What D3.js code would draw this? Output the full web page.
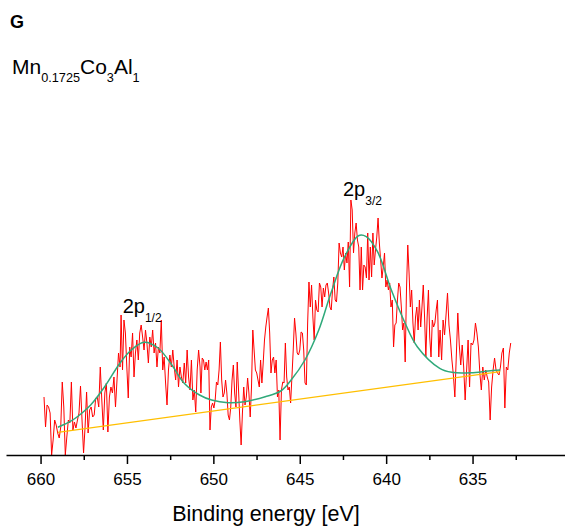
<!DOCTYPE html>
<html>
<head>
<meta charset="utf-8">
<script src="https://cdn.jsdelivr.net/npm/d3@7"></script>
<style>
    body { margin: 0; background: #fff; }
    text { font-family: "Liberation Sans", Arial, sans-serif; fill: #000; }
</style>
</head>
<body>
<svg id="chart"></svg>
<script>
// izmjereni spektar, očitan po dijelovima (energija vezanja u eV, intenzitet u proizvoljnim jedinicama)
const segStart = [659.80, 655.34, 650.72, 646.06, 641.44, 636.79];
const segEnd = [655.40, 650.77, 646.14, 641.51, 636.88, 632.79];

const seg1 = [58, 28, 50, 48, 42, 0, 15, 35, 30, 22, 17, 28, 73, 48, 0, 18, 35, 32, 73, 25, 33, 27, 35, 42, 69, 35, 2, 28, 63, 22, 45, 48, 38, 40, 57, 58, 48, 88, 55, 25, 62, 72, 23, 58, 68, 62, 78, 48, 75, 102, 88];
const seg2 = [140, 85, 135, 122, 88, 57, 108, 98, 122, 78, 102, 115, 95, 122, 130, 118, 105, 125, 112, 92, 118, 108, 125, 102, 112, 88, 108, 102, 135, 85, 98, 72, 50, 85, 100, 88, 105, 88, 75, 95, 68, 88, 78, 72, 92, 72, 105, 78, 65, 95, 55, 65, 43, 85, 105, 88];
const seg3 = [62, 97, 95, 85, 93, 85, 95, 25, 48, 52, 47, 55, 73, 70, 85, 113, 75, 58, 62, 75, 62, 40, 35, 48, 75, 90, 62, 48, 93, 65, 35, 10, 42, 68, 50, 58, 77, 62, 38, 68, 125, 105, 85, 82, 75, 68, 95, 72, 92, 115, 128, 138, 147, 122, 82, 95, 98, 82, 95, 58, 65, 15];
const seg4 = [65, 73, 72, 112, 78, 65, 68, 52, 78, 105, 137, 122, 102, 100, 105, 123, 122, 105, 72, 70, 132, 173, 148, 170, 138, 115, 155, 145, 143, 172, 168, 148, 167, 158, 170, 172, 162, 148, 145, 165, 178, 155, 153, 172, 212, 202, 198, 208, 185, 202, 192, 213, 168, 255, 245, 202, 222, 232, 215, 208, 165];
const seg5 = [208, 165, 190, 188, 177, 222, 175, 208, 178, 222, 190, 205, 218, 237, 212, 195, 177, 188, 202, 168, 175, 165, 172, 148, 155, 108, 130, 132, 155, 172, 168, 148, 125, 132, 93, 165, 210, 182, 148, 165, 132, 112, 138, 148, 125, 155, 128, 148, 170, 138, 98, 138, 165, 118, 98, 135, 128, 132, 145, 155, 98, 125];
const seg6 = [95, 135, 120, 140, 162, 130, 115, 95, 80, 58, 100, 142, 110, 90, 110, 88, 55, 85, 115, 68, 112, 110, 115, 132, 122, 108, 82, 65, 88, 75, 85, 78, 73, 35, 68, 85, 97, 85, 82, 80, 88, 102, 107, 47, 88, 85, 102, 112];

// fit (zelena) i pozadina (narančasta)
const fitEnergy = [659.0, 658.2, 657.6, 657.1, 656.3, 655.4, 654.75, 654.0, 653.2, 652.4, 651.7, 650.8, 650.1, 649.15, 648.2, 647.0, 646.1, 645.5, 644.7, 643.9, 643.2, 642.4, 641.6, 641.15, 640.5, 639.7, 638.9, 638.2, 636.9, 636.2, 635.1, 634.1, 633.4];
const fitValue = [27.7, 34.3, 42, 50, 68, 92, 105, 112.7, 107, 90, 72, 60, 55, 52.3, 53.3, 58.3, 64, 75, 95, 125, 161.7, 198.3, 219.3, 218.3, 203.3, 165, 131.7, 108.3, 86.7, 82.7, 82.3, 84, 85];
const baseEnergy = [659.0, 633.4];
const baseValue = [22.7, 83.3];

const majorTicks = [660, 655, 650, 645, 640, 635];
const minorTicks = [657.5, 652.5, 647.5, 642.5, 637.5, 632.5];

const width = 565;
const height = 530;

const svg = d3.select('#chart')
    .attr('width', width)
    .attr('height', height);

const x = d3.scaleLinear()
    .domain([662, 629.65])
    .range([6, 565]);

const y = d3.scaleLinear()
    .domain([0, 260])
    .range([455, 195]);

const segments = [seg1, seg2, seg3, seg4, seg5, seg6];
const spectrum = [];
segments.forEach((vals, s) => {
    vals.forEach((v, i) => {
        const e = segStart[s] + (segEnd[s] - segStart[s]) * i / (vals.length - 1);
        spectrum.push([e, v]);
    });
});

const line = d3.line()
    .x(d => x(d[0]))
    .y(d => y(d[1]));

svg.append('path')
    .datum(spectrum)
    .attr('fill', 'none')
    .attr('stroke', '#ff0000')
    .attr('stroke-width', 1)
    .attr('d', line);

svg.append('path')
    .datum(baseEnergy.map((e, i) => [e, baseValue[i]]))
    .attr('fill', 'none')
    .attr('stroke', '#ffbf00')
    .attr('stroke-width', 1.3)
    .attr('d', line);

svg.append('path')
    .datum(fitEnergy.map((e, i) => [e, fitValue[i]]))
    .attr('fill', 'none')
    .attr('stroke', '#2fa97a')
    .attr('stroke-width', 1.5)
    .attr('d', line.curve(d3.curveCatmullRom));

// os x
const axisG = svg.append('g')
    .attr('transform', 'translate(0,455)')
    .call(d3.axisBottom(x)
        .tickValues(majorTicks)
        .tickSize(9)
        .tickSizeOuter(0)
        .tickPadding(9)
        .tickFormat(d3.format('d')));

axisG.select('.domain').attr('stroke-width', 1.5);
axisG.selectAll('.tick line').attr('stroke-width', 1.5);
axisG.selectAll('.tick text')
    .style('font-family', '"Liberation Sans", Arial, sans-serif')
    .style('font-size', '17px');

const minorG = svg.append('g')
    .attr('transform', 'translate(0,455)')
    .call(d3.axisBottom(x)
        .tickValues(minorTicks)
        .tickSize(5)
        .tickSizeOuter(0)
        .tickFormat(''));
minorG.select('.domain').remove();
minorG.selectAll('.tick line').attr('stroke-width', 1.5);

svg.append('text')
    .attr('x', 266)
    .attr('y', 521)
    .attr('text-anchor', 'middle')
    .style('font-size', '21.5px')
    .text('Binding energy [eV]');

// oznake
svg.append('text')
    .attr('x', 10)
    .attr('y', 28)
    .style('font-size', '18px')
    .style('font-weight', 'bold')
    .text('G');

const formula = svg.append('text')
    .attr('x', 12)
    .attr('y', 74)
    .style('font-size', '21px');
formula.append('tspan').text('Mn');
formula.append('tspan').attr('dy', 7.5).style('font-size', '12.7px').text('0.1725');
formula.append('tspan').attr('dy', -7.5).text('Co');
formula.append('tspan').attr('dy', 7.5).style('font-size', '12.7px').text('3');
formula.append('tspan').attr('dy', -7.5).text('Al');
formula.append('tspan').attr('dy', 7.5).style('font-size', '12.7px').text('1');

const peaks = [
    { main: '2p', sub: '1/2', e: 655.25, v: 141.7 },
    { main: '2p', sub: '3/2', e: 642.5, v: 259 }
];

peaks.forEach(p => {
    const t = svg.append('text')
        .attr('x', x(p.e))
        .attr('y', y(p.v))
        .style('font-size', '20px');
    t.append('tspan').text(p.main);
    t.append('tspan').attr('dy', 8.5).style('font-size', '12px').text(p.sub);
});
</script>
</body>
</html>
